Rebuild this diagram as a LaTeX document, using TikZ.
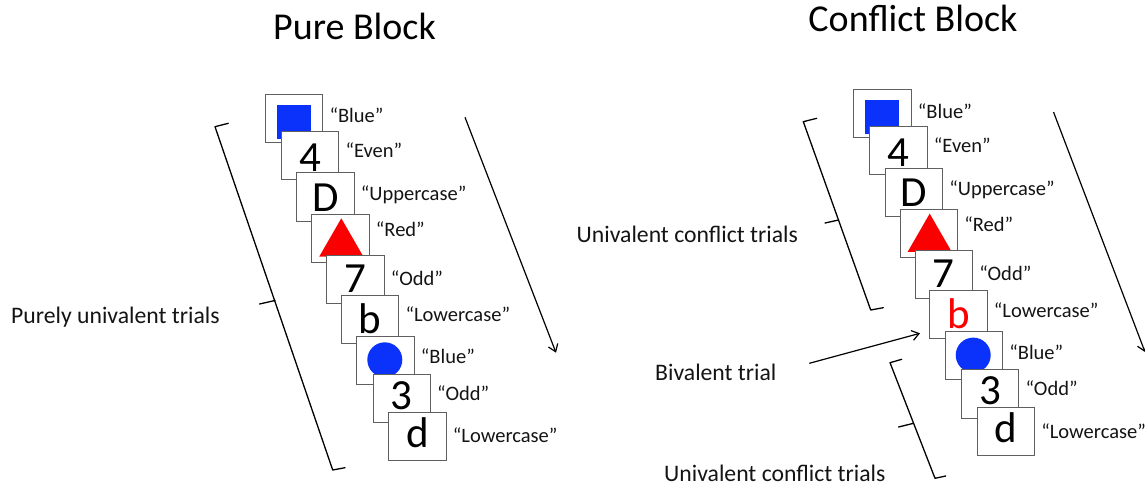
\documentclass[tikz,border=0pt]{standalone}
\usepackage{fontspec}
\setmainfont{Carlito}
\usetikzlibrary{arrows.meta}
\definecolor{sblue}{RGB}{10,50,250}
\definecolor{sred}{RGB}{250,0,0}
\definecolor{edgec}{RGB}{95,95,95}
\definecolor{txt}{RGB}{20,20,20}
\tikzset{
 card/.style={draw=edgec, fill=white, line width=0.9pt, anchor=north west, minimum width=57.5pt, minimum height=48.5pt, inner sep=0pt, outer sep=0pt},
 lab/.style={anchor=base west, inner sep=0pt, text=txt, font=\fontsize{20.5}{23}\selectfont},
 glyph/.style={anchor=base, inner sep=0pt, font=\fontsize{43}{46}\selectfont},
 side/.style={anchor=base west, inner sep=0pt, text=txt, font=\fontsize{23.7}{26}\selectfont},
 title/.style={anchor=base, inner sep=0pt, text=black, font=\fontsize{38}{42}\selectfont},
 brk/.style={line width=1.3pt, line cap=round, line join=round},
 arr/.style={line width=1.2pt, -{Straight Barb[length=7pt,width=10pt]}}
}
\newcommand\card[5]{%
 \node[card] (#1) at (#2,#3) {};
 \node[lab] (#1l) at ([shift={(6.5,#5)}]#1.north east) {#4};
}
\newcommand\stackdraw[2]{%
 \card{#1a}{265.3}{94}{“Blue”}{28.7}
 \fill[sblue] ([shift={(11.5,11)}]#1a.north west) rectangle +(34,34);
 \card{#1b}{281.3}{131}{“Even”}{26}
 \node[glyph] (#1bg) at ([shift={(28.75,40.5)}]#1b.north west) {4};
 \card{#1c}{296.7}{172.7}{“Uppercase”}{27.3}
 \node[glyph] (#1cg) at ([shift={(28.75,38.5)}]#1c.north west) {D};
 \card{#1d}{311.7}{214}{“Red”}{22}
 \fill[sred] ([shift={(29.6,4.3)}]#1d.north west) -- ([shift={(51.6,42.5)}]#1d.north west) -- ([shift={(7.6,42.5)}]#1d.north west) -- cycle;
 \card{#1e}{326.7}{255}{“Odd”}{30}
 \node[glyph] (#1eg) at ([shift={(28.75,37.5)}]#1e.north west) {7};
 \card{#1f}{341.3}{295}{“Lowercase”}{26.7}
 \node[glyph, text=#2] (#1fg) at ([shift={(28.75,38.5)}]#1f.north west) {b};
 \card{#1g}{356.7}{336}{“Blue”}{27.7}
 \fill[sblue] ([shift={(28.1,23.8)}]#1g.north west) circle[radius=17.5];
 \card{#1h}{373}{374.3}{“Odd”}{26}
 \node[glyph] (#1hg) at ([shift={(28.75,35)}]#1h.north west) {3};
 \card{#1i}{388.7}{412}{“Lowercase”}{30.7}
 \node[glyph] (#1ig) at ([shift={(28.75,35.5)}]#1i.north west) {d};
}
\begin{document}
\begin{tikzpicture}[x=1pt,y=-1pt]
\useasboundingbox (0,0) rectangle (1145,488);
\clip (0,0) rectangle (1145,488);
% titles
\node[title] (t1) at (354.5,39.3) {Pure Block};
\node[title] (t2) at (913,31.7) {Conflict Block};
% left block
\stackdraw{L}{black}
\node[side] (pl) at (11,323.3) {Purely univalent trials};
\coordinate (lb1) at (228.3,123.3);
\coordinate (lb2) at (215,126.7);
\coordinate (lb3) at (332.7,470);
\coordinate (lb4) at (345,467.7);
\draw[brk] (lb1) -- (lb2) -- (lb3) -- (lb4);
\coordinate (lm1) at (259.5,304);
\coordinate (lm2) at (275,300.5);
\draw[brk] (lm1) -- (lm2);
\coordinate (la1) at (465,117.3);
\coordinate (la2) at (556,352.7);
\draw[arr] (la1) -- (la2);
% right block
\begin{scope}[shift={(588.4,-4.7)}]
\stackdraw{R}{sred}
\end{scope}
\node[side] (u1) at (576.5,242) {Univalent conflict trials};
\node[side] (bv) at (655,380.5) {Bivalent trial};
\node[side] (u2) at (664,481.7) {Univalent conflict trials};
\coordinate (rb1) at (816.7,118.3);
\coordinate (rb2) at (803.3,121.7);
\coordinate (rb3) at (870.7,310);
\coordinate (rb4) at (883.3,307.7);
\draw[brk] (rb1) -- (rb2) -- (rb3) -- (rb4);
\coordinate (rm1) at (825,223);
\coordinate (rm2) at (838.5,220);
\draw[brk] (rm1) -- (rm2);
\coordinate (sb1) at (901.7,359.3);
\coordinate (sb2) at (890,362.7);
\coordinate (sb3) at (935,478.3);
\coordinate (sb4) at (945.7,476);
\draw[brk] (sb1) -- (sb2) -- (sb3) -- (sb4);
\coordinate (sm1) at (898.5,427);
\coordinate (sm2) at (913.5,423.3);
\draw[brk] (sm1) -- (sm2);
\coordinate (bva) at (809.3,363.3);
\coordinate (bvb) at (920,333.3);
\draw[arr] (bva) -- (bvb);
\coordinate (ra1) at (1053.5,112);
\coordinate (ra2) at (1145,352);
\draw[arr] (ra1) -- (ra2);
\end{tikzpicture}
\end{document}
